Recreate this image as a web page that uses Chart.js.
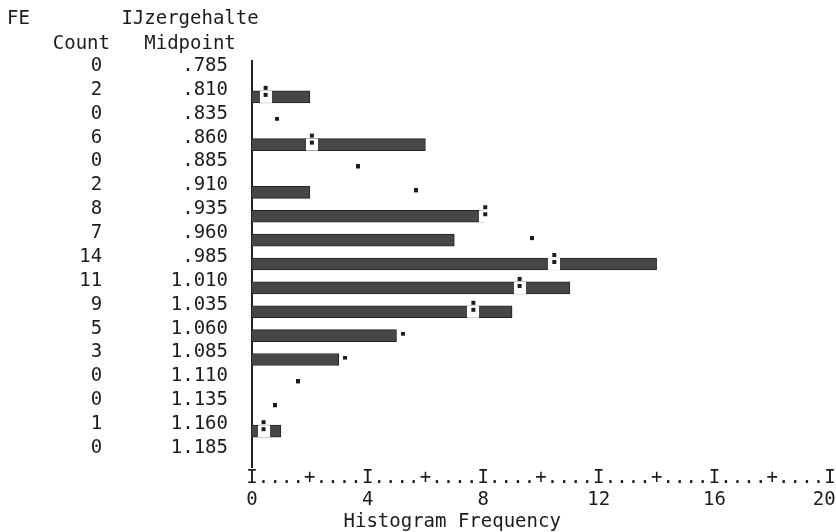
<!DOCTYPE html>
<html>
<head>
<meta charset="utf-8">
<script src="https://cdn.jsdelivr.net/npm/chart.js@4.4.1/dist/chart.umd.min.js"></script>
<style>
  body { margin: 0; background: #fff; }
  canvas { display: block; }
</style>
</head>
<body>
<canvas id="histograma" width="836" height="532"></canvas>
<script>
const midpoints = ['.785', '.810', '.835', '.860', '.885', '.910', '.935', '.960', '.985',
                   '1.010', '1.035', '1.060', '1.085', '1.110', '1.135', '1.160', '1.185'];
const counts = [0, 2, 0, 6, 0, 2, 8, 7, 14, 11, 9, 5, 3, 0, 0, 1, 0];
// curva normal superpuesta (posición de ':' o '.')
const normalCurve = [null, 0.47, 0.85, 2.07, 3.67, 5.67, 8.07, 9.68, 10.46, 9.26, 7.66, 5.24, 3.23, 1.6, 0.8, 0.4, null];
const curveMarks = ['', ':', '.', ':', '.', '.', ':', '.', ':', ':', ':', '.', '.', '.', '.', ':', ''];
const rulerStep = 0.4;   // un carácter de la regla
const rulerMax = 20;

const mono = 'DejaVu Sans Mono';
const ink = '#1c1c1c';

// marcas de la curva: ':' corta la barra, '.' es un punto suelto
function crearMarca(tipo) {
    const c = document.createElement('canvas');
    const g = c.getContext('2d');
    if (tipo === ':') {
        c.width = 12; c.height = 24;
        g.fillStyle = '#fff';
        g.fillRect(0, 6, 12, 12);
        g.fillStyle = ink;
        g.fillRect(4, 1, 4, 4);
        g.fillRect(4, 8, 4, 4);
    } else {
        c.width = 4; c.height = 8;
        g.fillStyle = ink;
        g.fillRect(0, 0, 4, 4);
    }
    return c;
}
const marcaColon = crearMarca(':');
const marcaPunto = crearMarca('.');

const ctx = document.getElementById('histograma').getContext('2d');
new Chart(ctx, {
    data: {
        labels: midpoints,
        datasets: [{
            type: 'bar',
            indexAxis: 'y',
            data: counts,
            backgroundColor: '#474747',
            borderColor: '#222',
            borderWidth: 1,
            barThickness: 12,
            order: 2
        }, {
            type: 'line',
            indexAxis: 'y',
            data: normalCurve,
            showLine: false,
            pointRadius: 3,
            pointStyle: (c) => curveMarks[c.dataIndex] === ':' ? marcaColon : marcaPunto,
            order: 1
        }]
    },
    options: {
        indexAxis: 'y',
        responsive: false,
        animation: false,
        layout: { padding: { left: 7, right: 6, top: 0, bottom: 0 } },
        plugins: {
            legend: { display: false },
            tooltip: { enabled: false },
            title: {
                display: true,
                text: 'FE        IJzergehalte',
                align: 'start',
                color: ink,
                font: { family: mono, size: 19, weight: 'normal', lineHeight: '24px' },
                padding: { top: 7, bottom: 0 }
            },
            subtitle: {
                display: true,
                text: '    Count   Midpoint',
                align: 'start',
                color: ink,
                font: { family: mono, size: 19, weight: 'normal', lineHeight: '24px' },
                padding: { top: 1, bottom: 5 }
            }
        },
        scales: {
            y: {
                type: 'category',
                offset: true,
                grid: { display: false },
                border: { display: true, color: '#222', width: 2 },
                ticks: {
                    autoSkip: false,
                    color: ink,
                    padding: 16,
                    labelOffset: -7,
                    font: { family: mono, size: 19 },
                    callback: (v, i) => String(counts[i]) + midpoints[i].padStart(11)
                },
                afterFit: (scale) => { scale.width = 245; }
            },
            x: {
                type: 'linear',
                min: 0,
                max: rulerMax,
                grid: { display: false, drawTicks: false },
                border: { display: false },
                ticks: {
                    stepSize: rulerStep,
                    autoSkip: false,
                    maxRotation: 0,
                    maxTicksLimit: 100,
                    padding: 0,
                    color: ink,
                    font: { family: mono, size: 19, lineHeight: '22px' },
                    callback: function (value) {
                        const i = Math.round(value / rulerStep);
                        if (i % 10 === 0) {
                            const n = String(Math.round(value));
                            return ['I', value >= rulerMax ? n + ' ' : n];
                        }
                        if (i % 5 === 0) return ['+', ''];
                        return ['.', ''];
                    }
                },
                title: {
                    display: true,
                    text: '        Histogram Frequency',
                    align: 'start',
                    color: ink,
                    font: { family: mono, size: 19, lineHeight: '20px' },
                    padding: { top: 1, bottom: 0 }
                },
                afterFit: (scale) => { scale.paddingLeft = 0; scale.paddingRight = 0; }
            }
        }
    }
});
</script>
</body>
</html>
